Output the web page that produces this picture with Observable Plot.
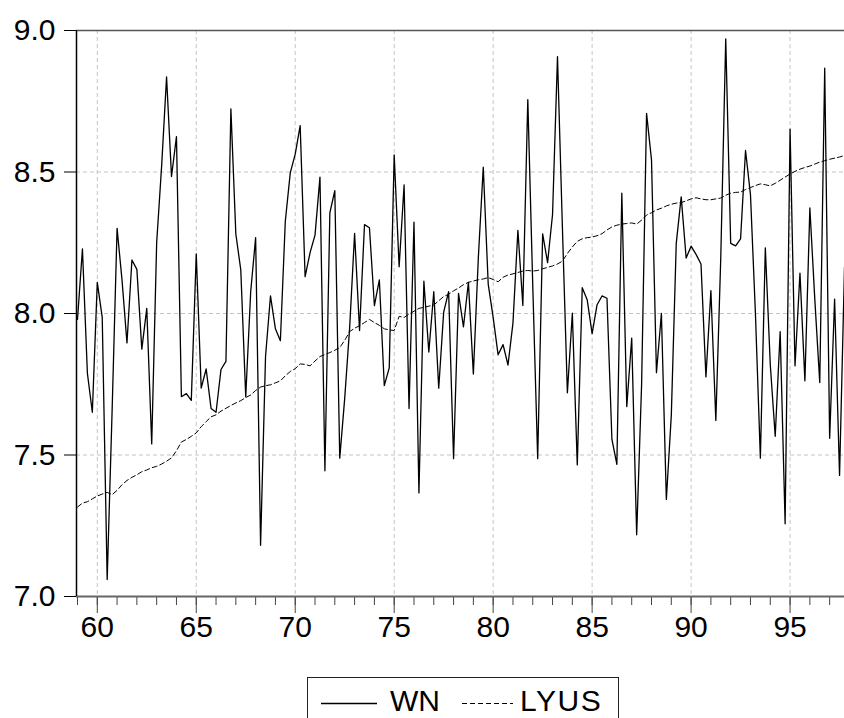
<!DOCTYPE html>
<html><head><meta charset="utf-8">
<script src="https://cdn.jsdelivr.net/npm/d3@7"></script>
<script src="https://cdn.jsdelivr.net/npm/@observablehq/plot@0.6"></script>
<style>
body{margin:0;background:#fff;overflow:hidden;font-family:"Liberation Sans",Arial,sans-serif;}
#chart{position:absolute;left:0;top:0;}
#legend{position:absolute;left:307px;top:677px;width:312px;height:60px;border:1px solid #222;box-sizing:border-box;background:#fff;}
#legend .lab{position:absolute;font-size:30px;line-height:30px;color:#000;}
#legend svg{position:absolute;left:0;top:0;}
</style></head><body>
<div id="chart"></div>
<div id="legend">
  <svg width="310" height="58"><line x1="13" x2="69" y1="25.5" y2="25.5" stroke="#000" stroke-width="1.3"/><line x1="154" x2="205" y1="25.5" y2="25.5" stroke="#000" stroke-width="1" stroke-dasharray="5,3"/></svg>
  <span class="lab" style="left:82px;top:8px">WN</span>
  <span class="lab" style="left:212px;top:8px;letter-spacing:1.5px">LYUS</span>
</div>
<script>
const startYear = 59;          // 1959Q1
const seriesNames = ["WN", "LYUS"];
const yTicks = [7.0, 7.5, 8.0, 8.5, 9.0];
const xLabelTicks = [60, 65, 70, 75, 80, 85, 90, 95];
const xMinorTicks = [59,60,61,62,63,64,65,66,67,68,69,70,71,72,73,74,75,76,77,78,79,80,81,82,83,84,85,86,87,88,89,90,91,92,93,94,95,96,97];

const wn = [
7.979,8.228,7.789,7.651,8.110,7.986,7.060,7.659,8.301,8.118,
7.896,8.189,8.156,7.874,8.018,7.539,8.250,8.520,8.836,8.484,
8.625,7.706,7.717,7.693,8.211,7.736,7.804,7.664,7.651,7.802,
7.831,8.723,8.281,8.154,7.706,8.077,8.268,7.181,7.848,8.062,
7.946,7.904,8.327,8.497,8.563,8.664,8.130,8.215,8.277,8.482,
7.444,8.356,8.434,7.489,7.700,7.950,8.283,7.940,8.314,8.303,
8.028,8.119,7.745,7.808,8.560,8.165,8.454,7.664,8.323,7.366,
8.114,7.864,8.077,7.736,8.005,8.077,7.487,8.071,7.953,8.110,
7.786,8.196,8.517,8.104,7.986,7.854,7.890,7.818,7.966,8.294,
8.028,8.756,8.100,7.487,8.281,8.180,8.350,8.908,8.300,7.720,
8.001,7.465,8.091,8.049,7.929,8.031,8.062,8.054,7.555,7.467,
8.425,7.671,7.913,7.218,7.750,8.707,8.543,7.791,8.000,7.343,
7.640,8.248,8.412,8.196,8.238,8.209,8.175,7.776,8.081,7.622,
8.200,8.970,8.248,8.239,8.264,8.576,8.420,8.000,7.489,8.232,
7.820,7.566,7.936,7.257,8.651,7.815,8.143,7.762,8.373,8.050,
7.756,8.867,7.559,8.051,7.428,8.163
];

const lyus = [
7.316,7.330,7.335,7.345,7.355,7.362,7.368,7.360,7.375,7.395,
7.410,7.421,7.430,7.441,7.447,7.455,7.460,7.468,7.478,7.490,
7.515,7.546,7.555,7.566,7.578,7.600,7.618,7.635,7.642,7.655,
7.665,7.675,7.684,7.692,7.703,7.712,7.728,7.740,7.745,7.748,
7.755,7.762,7.780,7.795,7.805,7.822,7.820,7.815,7.832,7.848,
7.855,7.862,7.870,7.880,7.905,7.936,7.948,7.957,7.968,7.979,
7.968,7.958,7.946,7.942,7.940,7.990,7.986,7.998,8.008,8.018,
8.022,8.026,8.030,8.045,8.060,8.068,8.080,8.090,8.102,8.110,
8.115,8.119,8.122,8.127,8.120,8.112,8.128,8.136,8.140,8.145,
8.150,8.152,8.150,8.152,8.158,8.163,8.168,8.175,8.185,8.212,
8.235,8.255,8.264,8.268,8.270,8.275,8.282,8.295,8.306,8.312,
8.316,8.318,8.320,8.316,8.330,8.348,8.356,8.366,8.372,8.380,
8.386,8.390,8.392,8.398,8.405,8.409,8.405,8.402,8.402,8.405,
8.408,8.418,8.425,8.428,8.429,8.438,8.445,8.452,8.458,8.455,
8.451,8.460,8.471,8.482,8.493,8.502,8.510,8.516,8.521,8.528,
8.535,8.540,8.545,8.549,8.553,8.558
];

const data = wn.map((v, i) => ({t: startYear + i / 4, wn: v, lyus: lyus[i]}));

const chart = Plot.plot({
  width: 844,
  height: 650,
  marginTop: 30,
  marginBottom: 54,
  marginLeft: 76,
  marginRight: 0,
  style: {fontFamily: "'Liberation Sans', Arial, sans-serif", background: "#fff", color: "#000", overflow: "visible"},
  x: {domain: [58.95, 97.75]},
  y: {domain: [7, 9]},
  marks: [
    Plot.gridY([7.5, 8.0, 8.5], {stroke: "#c4c4c4", strokeOpacity: 1, strokeDasharray: "4,3"}),
    Plot.gridX(xLabelTicks, {stroke: "#c4c4c4", strokeOpacity: 1, strokeDasharray: "4,3"}),
    Plot.ruleY([9], {stroke: "#555", strokeWidth: 1.5}),
    Plot.axisY({ticks: yTicks, tickFormat: d => d.toFixed(1), tickSize: 12, tickPadding: 9, label: null, fontSize: 30, stroke: "#000"}),
    Plot.axisX({ticks: xMinorTicks, tickSize: 9, tickFormat: () => "", label: null, stroke: "#444"}),
    Plot.axisX({ticks: xLabelTicks, tickSize: 17, tickPadding: 2, tickFormat: d => String(d), label: null, fontSize: 30, stroke: "#444"}),
    Plot.ruleY([7], {stroke: "#666", strokeWidth: 2}),
    Plot.ruleX([58.95], {stroke: "#000", strokeWidth: 1.5}),
    Plot.lineY(data, {x: "t", y: "lyus", stroke: "#000", strokeWidth: 1, strokeDasharray: "5,3"}),
    Plot.lineY(data, {x: "t", y: "wn", stroke: "#000", strokeWidth: 1.3})
  ]
});
document.getElementById("chart").appendChild(chart);
</script>
</body></html>
